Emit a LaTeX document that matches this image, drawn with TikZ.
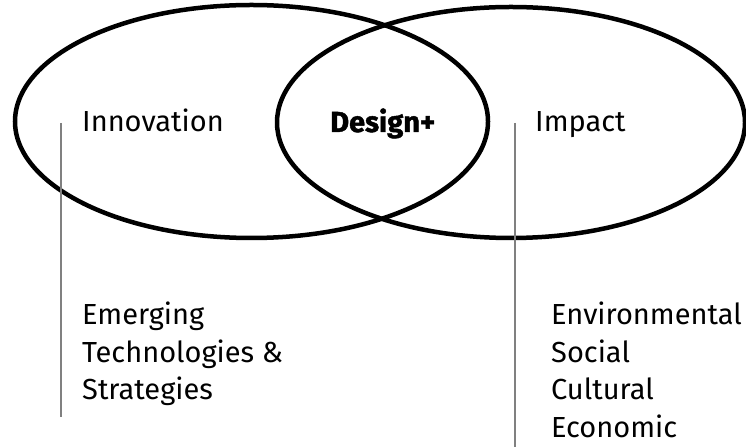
\documentclass[tikz,border=0pt]{standalone}
\usepackage{fontspec}
\setmainfont{Fira Sans}
\usetikzlibrary{shapes.geometric}
\begin{document}
\begin{tikzpicture}[x=1pt,y=1pt,
  ring/.style={draw=black,line width=4.5pt},
  leader/.style={draw=black!50,line width=1.3pt},
  label/.style={inner sep=0pt,anchor=base west,font=\fontsize{29}{37.5}\selectfont},
  list/.style={inner sep=0pt,anchor=north west,align=left,font=\fontsize{29}{37.5}\selectfont}]
\useasboundingbox (0,0) rectangle (746,447);
\node[ring,ellipse,minimum width=473pt,minimum height=233pt,inner sep=0pt] (left) at (251.5,325.5) {};
\node[ring,ellipse,minimum width=468pt,minimum height=231pt,inner sep=0pt] (right) at (511,324.5) {};
\node[label] (innov) at (82,315) {Innovation};
\node[label,font=\fontsize{29}{37.5}\selectfont\bfseries\addfontfeatures{FakeBold=1.5}] (design) at (330,315) {Design+};
\node[label] (impact) at (535,315) {Impact};
\coordinate (l1) at (61,324);
\coordinate (l2) at (61,30);
\coordinate (r1) at (515,324);
\coordinate (r2) at (515,0);
\draw[leader] (l1) -- (l2);
\draw[leader] (r1) -- (r2);
\node[list] (emerging) at (82,145) {Emerging\\Technologies \&\\Strategies};
\node[list] (envlist) at (551,145) {Environmental\\Social\\Cultural\\Economic};
\end{tikzpicture}
\end{document}
